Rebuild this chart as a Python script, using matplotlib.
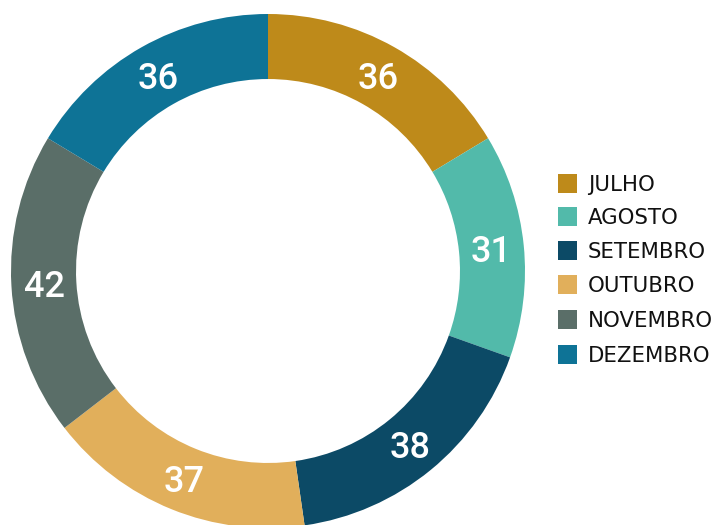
import matplotlib
matplotlib.use("Agg")
import matplotlib.pyplot as plt
import numpy as np
from matplotlib.patches import Rectangle

categories = ["JULHO", "AGOSTO", "SETEMBRO", "OUTUBRO", "NOVEMBRO", "DEZEMBRO"]
values = [36, 31, 38, 37, 42, 36]
colors = ["#BE8A1A", "#52BAAA", "#0C4A66", "#E1AF5B", "#5A6E68", "#0E7396"]

W, H = 728, 525
fig = plt.figure(figsize=(W / 100, H / 100), dpi=100)
fig.patch.set_facecolor("white")

cx, cy, R = 268, 271, 257
ax = fig.add_axes([(cx - R) / W, (H - cy - R) / H, 2 * R / W, 2 * R / H])
wedges, _ = ax.pie(values, colors=colors, startangle=90, counterclock=False,
                   radius=1.0, wedgeprops=dict(width=0.253, linewidth=0))
ax.set_xlim(-1, 1)
ax.set_ylim(-1, 1)
ax.set_aspect("auto")
ax.axis("off")

total = sum(values)
cum = 0
for v in values:
    mid = 90 - (cum + v / 2) / total * 360
    cum += v
    r = 0.872
    ax.annotate(str(v), (r * np.cos(np.radians(mid)), r * np.sin(np.radians(mid))),
                xytext=(0, -9.8), textcoords="offset points",
                ha="center", va="baseline", color="white", fontsize=26,
                fontfamily="Roboto", fontweight="medium")

# legend
ys = [183, 216, 250, 284, 319, 354]
for cat, col, y in zip(categories, colors, ys):
    fig.add_artist(Rectangle((558 / W, (H - y - 9.5) / H), 19 / W, 19 / H,
                             transform=fig.transFigure, facecolor=col,
                             edgecolor="none"))
    fig.text(588 / W, (H - y) / H, cat, ha="left", va="center_baseline",
             fontsize=15.3, fontfamily="DejaVu Sans", color="#111111")

fig.savefig("out.png", dpi=100, facecolor="white")
